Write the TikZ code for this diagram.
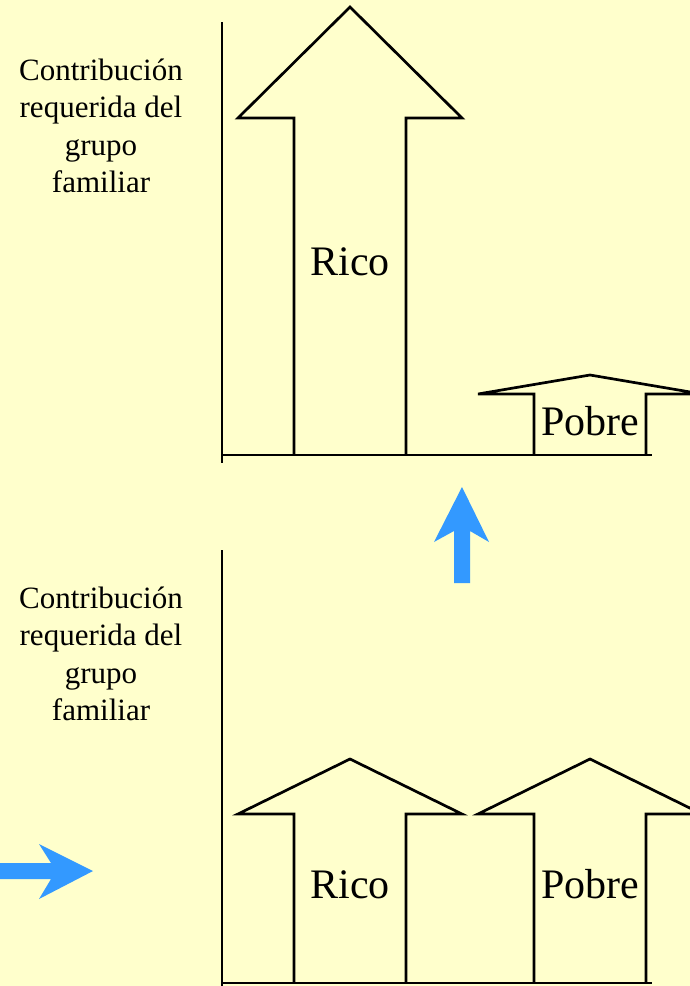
\documentclass[tikz,border=0pt]{standalone}
\usepackage{fontspec}
\setmainfont{Liberation Serif}
\definecolor{paper}{RGB}{255,255,204}
\definecolor{flecha}{RGB}{51,153,255}

\begin{document}
\begin{tikzpicture}[x=1pt,y=-1pt]
\tikzstyle{every node}=[inner sep=0pt]
\tikzstyle{ylabel}=[align=center,font=\fontsize{31}{37.5}\selectfont]
\tikzstyle{grupo}=[anchor=base,font=\fontsize{42}{48}\selectfont]
\tikzstyle{barra}=[line width=2.7pt,line join=miter,fill=paper]
\tikzstyle{eje}=[line width=2.7pt]

% yellow background, fixes the size of the page
\fill [paper] (0,0) rectangle (690,986);
\useasboundingbox (0,0) rectangle (690,986);

% upper chart: arrows
\draw [barra] (294,455) -- (294,118) -- (238,118) -- (350,7) -- (462,118) -- (406,118) -- (406,455);
\draw [barra] (534,455) -- (534,394) -- (478,394) -- (590,375) -- (702,394) -- (646,394) -- (646,455);

% upper chart: axes
\draw [eje] (222,22) -- (222,463);
\draw [eje] (222,455) -- (652,455);

% labels
\node [ylabel] (ytop) at (101,126) {Contribución\\requerida del\\grupo\\familiar};
\node [grupo] (ricotop) at (350,275) {Rico};
\node [grupo] (pobretop) at (590,435) {Pobre};

% blue arrows
\fill [flecha] (454,583) -- (454,531) -- (434,542) -- (462,487) -- (489,542) -- (470,531) -- (470,583) -- cycle;
\fill [flecha] (0,863) -- (51,863) -- (39,844) -- (93,871) -- (39,899) -- (51,879) -- (0,879) -- cycle;

% lower chart: arrows
\draw [barra] (294,983) -- (294,814) -- (238,814) -- (350,759) -- (462,814) -- (406,814) -- (406,983);
\draw [barra] (534,983) -- (534,814) -- (478,814) -- (590,759) -- (702,814) -- (646,814) -- (646,983);

% lower chart: axes
\draw [eje] (222,550) -- (222,990);
\draw [eje] (222,983) -- (652,983);

% labels
\node [ylabel] (ybottom) at (101,654) {Contribución\\requerida del\\grupo\\familiar};
\node [grupo] (ricobottom) at (350,898) {Rico};
\node [grupo] (pobrebottom) at (590,898) {Pobre};

\end{tikzpicture}
\end{document}
